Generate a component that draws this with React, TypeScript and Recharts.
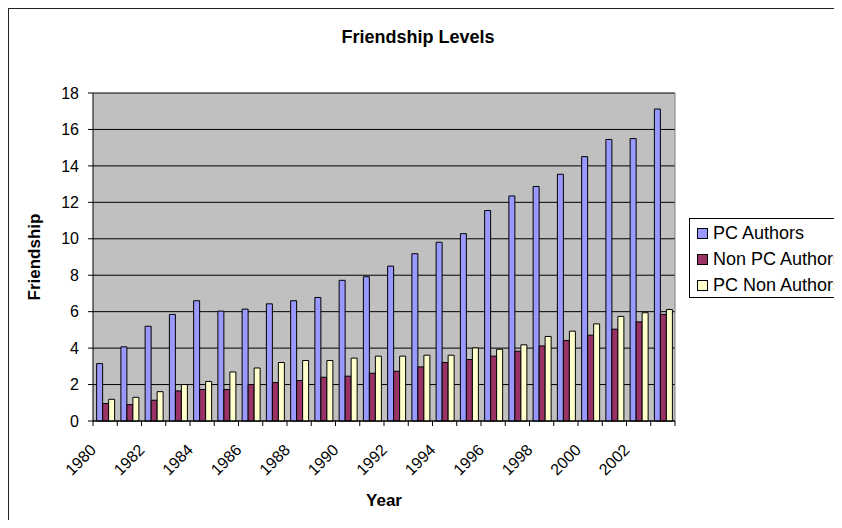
import React from "react";
import { BarChart, Bar, XAxis, YAxis, CartesianGrid } from "recharts";

// Category labels
const years = [
  "1980", "1981", "1982", "1983", "1984", "1985", "1986", "1987",
  "1988", "1989", "1990", "1991", "1992", "1993", "1994", "1995",
  "1996", "1997", "1998", "1999", "2000", "2001", "2002", "2003",
];

// Series values
const pcAuthors = [
  3.15, 4.07, 5.2, 5.85, 6.6, 6.03, 6.14, 6.43, 6.6, 6.78, 7.72, 7.92,
  8.5, 9.18, 9.81, 10.28, 11.55, 12.35, 12.87, 13.54, 14.51, 15.45, 15.5, 17.12,
];
const nonPcAuthors = [
  0.96, 0.9, 1.14, 1.65, 1.73, 1.73, 2.0, 2.11, 2.22, 2.4, 2.46, 2.62,
  2.73, 2.97, 3.21, 3.37, 3.56, 3.83, 4.12, 4.42, 4.71, 5.04, 5.44, 5.85,
];
const pcNonAuthors = [
  1.19, 1.3, 1.61, 2.0, 2.17, 2.69, 2.91, 3.21, 3.32, 3.32, 3.45, 3.56,
  3.56, 3.61, 3.61, 4.01, 3.94, 4.18, 4.64, 4.93, 5.33, 5.74, 5.94, 6.12,
];

// Series definitions, in legend order
const series = [
  { key: "pcAuthors", name: "PC Authors", color: "#9999FF" },
  { key: "nonPcAuthors", name: "Non PC Authors", color: "#993366" },
  { key: "pcNonAuthors", name: "PC Non Authors", color: "#FFFFCC" },
];

const yTicks = [0, 2, 4, 6, 8, 10, 12, 14, 16, 18];

const data = years.map((year, i) => ({
  year,
  pcAuthors: pcAuthors[i],
  nonPcAuthors: nonPcAuthors[i],
  pcNonAuthors: pcNonAuthors[i],
}));

const FONT = "'Liberation Sans', Arial, Helvetica, sans-serif";

const CHART_W = 833;
const CHART_H = 512;
const MARGIN = { top: 84, right: 167, bottom: 0, left: 0 };
const Y_AXIS_W = 84;
const X_AXIS_H = 100;
const PLOT_W = CHART_W - MARGIN.right - MARGIN.left - Y_AXIS_W;
const BAND = PLOT_W / years.length;

// Category-boundary tick marks with every second year label, slanted.
function YearTick(props: any) {
  const { x, y, payload, index } = props;
  const left = x - BAND / 2;
  const right = x + BAND / 2;
  const ax = x - 8;
  const ay = y + 30;
  return (
    <g>
      <line x1={left} x2={left} y1={y} y2={y + 5} stroke="#000" strokeWidth={1} />
      {index === years.length - 1 && (
        <line x1={right} x2={right} y1={y} y2={y + 5} stroke="#000" strokeWidth={1} />
      )}
      {index % 2 === 0 && (
        <text
          x={ax}
          y={ay}
          textAnchor="end"
          fontSize={16}
          fontFamily={FONT}
          fill="#000"
          transform={`rotate(-45, ${ax}, ${ay})`}
        >
          {payload.value}
        </text>
      )}
    </g>
  );
}

function LegendBox() {
  return (
    <div
      style={{
        position: "absolute",
        left: 680,
        top: 209,
        width: 200,
        height: 80,
        border: "1px solid #000",
        background: "#fff",
        padding: "1px 0 0 7px",
        boxSizing: "border-box",
        fontFamily: FONT,
      }}
    >
      {series.map((s) => (
        <div
          key={s.key}
          style={{
            height: 26,
            display: "flex",
            alignItems: "center",
            whiteSpace: "nowrap",
          }}
        >
          <span
            style={{
              display: "inline-block",
              flex: "none",
              width: 9,
              height: 9,
              border: "1px solid #000",
              background: s.color,
              marginRight: 5,
            }}
          />
          <span style={{ fontSize: 18, color: "#000" }}>{s.name}</span>
        </div>
      ))}
    </div>
  );
}

export default function App() {
  return (
    <div
      style={{
        position: "relative",
        width: 834,
        height: 514,
        marginBottom: -2,
        boxSizing: "border-box",
        borderTop: "1px solid #222",
        borderLeft: "1px solid #222",
        borderBottom: "1px solid #222",
        overflow: "hidden",
        background: "#fff",
        fontFamily: FONT,
      }}
    >
      <BarChart
        width={CHART_W}
        height={CHART_H}
        data={data}
        margin={MARGIN}
        barCategoryGap="15%"
        barGap={0}
      >
        <CartesianGrid
          vertical={false}
          stroke="#000"
          strokeWidth={1}
          fill="#C0C0C0"
          fillOpacity={1}
        />
        <CartesianGrid
          horizontal={false}
          stroke="#808080"
          strokeWidth={1}
          verticalCoordinatesGenerator={({ offset }: any) => [offset.left + offset.width]}
        />
        <XAxis
          dataKey="year"
          interval={0}
          height={X_AXIS_H}
          tickSize={0}
          tickMargin={0}
          tickLine={false}
          axisLine={{ stroke: "#000", strokeWidth: 1 }}
          tick={<YearTick />}
        />
        <YAxis
          width={Y_AXIS_W}
          domain={[0, 18]}
          ticks={yTicks}
          interval={0}
          tickSize={5}
          tickMargin={9}
          axisLine={{ stroke: "#000", strokeWidth: 1 }}
          tickLine={{ stroke: "#000", strokeWidth: 1 }}
          tick={{ fontSize: 16, fill: "#000", fontFamily: FONT }}
        />
        {series.map((s) => (
          <Bar
            key={s.key}
            dataKey={s.key}
            name={s.name}
            fill={s.color}
            stroke="#000"
            strokeWidth={1}
            isAnimationActive={false}
          />
        ))}
      </BarChart>

      <LegendBox />

      <div
        style={{
          position: "absolute",
          left: 409,
          top: 18,
          transform: "translateX(-50%)",
          fontSize: 18,
          fontWeight: "bold",
          lineHeight: "20px",
          whiteSpace: "nowrap",
          color: "#000",
        }}
      >
        Friendship Levels
      </div>
      <div
        style={{
          position: "absolute",
          left: 375,
          top: 482,
          transform: "translateX(-50%)",
          fontSize: 17,
          fontWeight: "bold",
          lineHeight: "20px",
          whiteSpace: "nowrap",
          color: "#000",
        }}
      >
        Year
      </div>
      <div
        style={{
          position: "absolute",
          left: 26,
          top: 248,
          transform: "translate(-50%, -50%) rotate(-90deg)",
          fontSize: 17,
          fontWeight: "bold",
          lineHeight: "20px",
          whiteSpace: "nowrap",
          color: "#000",
        }}
      >
        Friendship
      </div>
    </div>
  );
}
